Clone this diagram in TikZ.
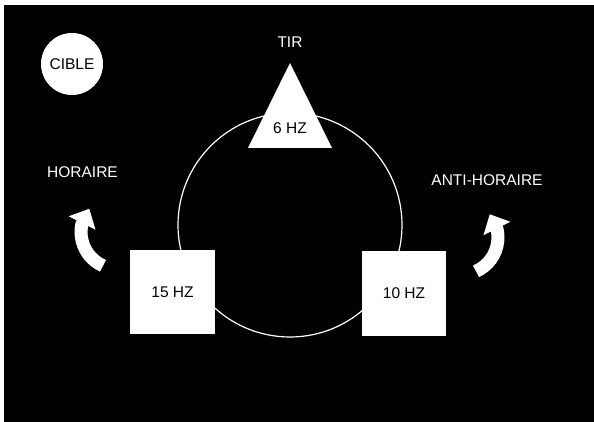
\documentclass[tikz,border=0pt]{standalone}
\usepackage{fontspec}
\setmainfont{Liberation Sans}
\usetikzlibrary{arrows.meta,bending}

\begin{document}
\begin{tikzpicture}[x=1pt,y=1pt,
      every node/.style={font=\fontsize{15.5}{18}\selectfont},
      whitebox/.style={rectangle, fill=white, inner sep=0pt},
      whitelabel/.style={text=white},
      rotarrow/.style={white, line width=13pt, -{Triangle[width=29pt,length=16pt]}}]

    \useasboundingbox (0,0) rectangle (594,422);
    \fill[black] (4,0) rectangle (594,417);

    \draw[white, line width=1.2pt] (290,197) circle[radius=112];

    \node[whitebox, circle, minimum size=62pt] (cible) at (72,358) {CIBLE};

    \fill[white] (290,359) -- (332,274) -- (248,274) -- cycle;
    \node[whitelabel] (tir) at (290,380) {TIR};
    \node (hz6) at (290,294) {6 HZ};

    \node[whitebox, minimum width=85pt, minimum height=84pt] (hz15) at (172.5,130) {15 HZ};
    \node[whitebox, minimum width=84pt, minimum height=85pt] (hz10) at (404,128.5) {10 HZ};

    \node[whitelabel] (horaire) at (82.5,250) {HORAIRE};
    \node[whitelabel] (antihoraire) at (487,242) {ANTI-HORAIRE};

    \coordinate (horairetail) at (103,156.2);
    \coordinate (antitail) at (476,150.7);

    \draw[rotarrow] (horairetail) arc[start angle=246, end angle=141, radius=37];
    \draw[rotarrow] (antitail) arc[start angle=-66, end angle=39, radius=37];

  \end{tikzpicture}
\end{document}
